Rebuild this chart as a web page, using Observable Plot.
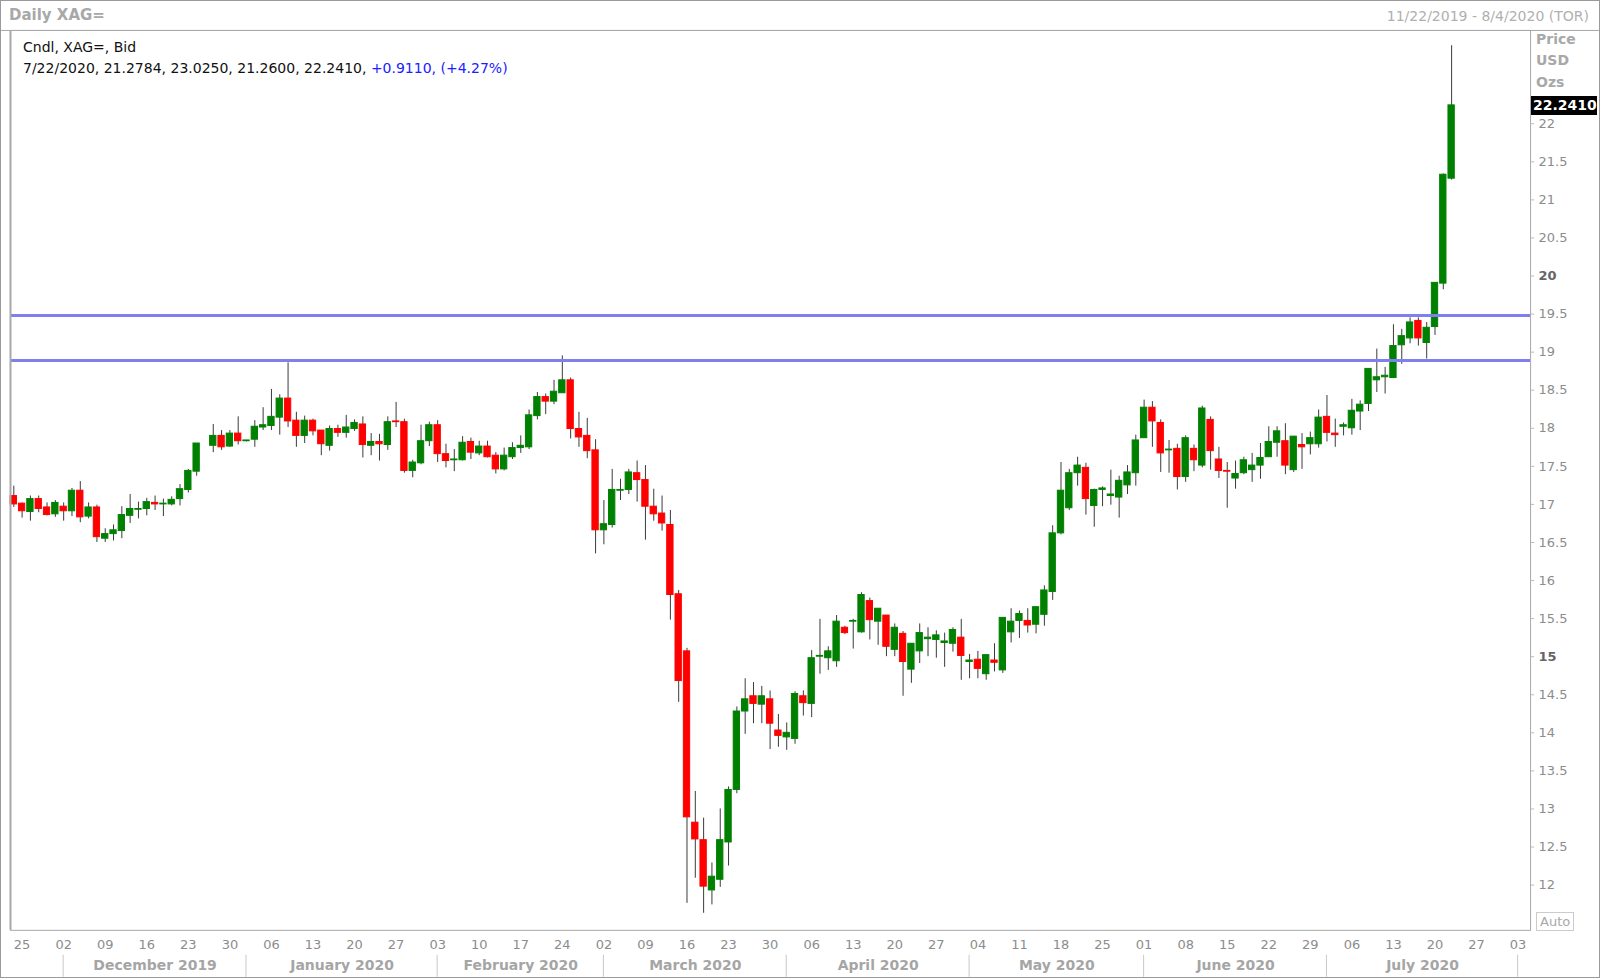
<!DOCTYPE html>
<html><head><meta charset="utf-8">
<script src="https://cdn.jsdelivr.net/npm/d3@7"></script>
<script src="https://cdn.jsdelivr.net/npm/@observablehq/plot@0.6"></script>
<style>
body{margin:0;background:#fff;}
#wrap{position:relative;width:1600px;height:978px;overflow:hidden;font-family:"DejaVu Sans",Verdana,sans-serif;box-sizing:border-box;border:1px solid #9a9a9a;}
#wrap svg{position:absolute;left:0;top:0;}
.abs{position:absolute;white-space:nowrap;line-height:1;}
</style></head><body><div id="wrap"></div>
<script>
// ---- data (index = trading weekday from 2019-11-22; null = no quote) ----
const startDate = "2019-11-22", endDate = "2020-08-04";
const opens = [17.11,17.01,16.90,17.07,16.96,16.87,16.97,16.91,17.18,16.84,16.96,16.55,16.61,16.65,16.85,16.93,16.94,17.02,17.00,17.00,17.07,17.19,17.43,null,17.77,17.90,17.76,17.93,17.83,17.85,
18.01,18.03,18.14,18.39,18.10,17.90,18.10,17.97,17.77,17.99,17.94,17.99,18.05,17.77,17.82,17.78,18.09,18.08,17.44,17.54,17.83,18.04,17.66,17.58,17.58,17.82,17.67,17.76,17.64,17.46,
17.62,17.74,17.75,18.16,18.41,18.35,18.46,18.63,17.99,17.90,17.71,16.66,16.73,17.18,17.19,17.41,17.32,16.97,16.88,16.73,15.82,15.07,12.82,12.59,11.93,12.07,12.56,13.25,14.28,14.48,
14.37,14.44,14.03,13.94,13.92,14.48,14.38,15.00,14.98,14.94,15.38,15.46,15.32,15.73,15.46,15.54,15.09,15.30,14.83,15.07,15.23,15.22,15.18,15.17,15.25,14.93,14.96,14.77,14.95,14.82,
15.32,15.47,15.47,15.42,15.55,15.85,16.62,16.95,17.41,17.48,16.98,17.19,17.11,17.09,17.25,17.41,17.87,18.27,18.07,17.71,17.73,17.36,17.73,17.51,18.11,17.59,17.44,17.34,17.41,17.45,
17.51,17.62,17.81,17.83,17.45,17.78,17.79,17.79,18.15,17.93,18.02,18.00,18.22,18.32,18.63,18.67,18.66,19.09,19.18,19.41,19.12,19.33,19.90,21.2784];
const highs = [17.24,17.02,17.11,17.11,17.02,17.05,17.02,17.21,17.30,17.02,16.99,16.68,16.73,16.97,17.13,17.03,17.08,17.11,17.07,17.10,17.26,17.46,17.80,null,18.05,17.97,17.97,18.15,17.84,18.10,
18.27,18.51,18.44,18.86,18.21,18.16,18.12,17.97,18.03,18.04,18.17,18.11,18.15,17.93,17.92,18.15,18.34,18.12,17.58,18.04,18.08,18.10,17.79,17.72,17.89,17.87,17.83,17.83,17.68,17.74,
17.81,17.90,18.24,18.47,18.45,18.63,18.95,18.66,18.21,18.13,17.85,17.05,17.46,17.33,17.46,17.57,17.51,17.20,17.11,16.92,15.87,15.11,13.23,12.88,12.29,13.00,13.29,14.34,14.71,14.66,
14.61,14.55,14.24,14.13,14.54,14.55,15.08,15.49,15.13,15.54,15.40,15.49,15.84,15.77,15.63,15.54,15.43,15.33,15.17,15.43,15.38,15.34,15.31,15.38,15.49,15.03,15.07,15.02,15.17,15.51,
15.63,15.60,15.63,15.65,15.93,16.72,17.55,17.46,17.62,17.54,17.20,17.23,17.45,17.37,17.51,17.91,18.37,18.35,18.11,17.84,17.79,17.90,17.78,18.29,18.15,17.75,17.55,17.57,17.62,17.67,
17.80,18.02,18.02,18.06,17.89,17.93,17.95,18.24,18.43,18.12,18.07,18.38,18.36,18.78,19.04,18.80,19.36,19.30,19.45,19.45,19.39,19.91,21.34,23.025];
const lows = [16.96,16.82,16.78,16.89,16.85,16.83,16.78,16.84,16.76,16.81,16.50,16.50,16.52,16.55,16.75,16.81,16.85,16.92,16.84,16.98,16.98,17.15,17.37,null,17.68,17.71,17.75,17.78,17.82,17.75,
17.97,17.97,17.91,18.01,17.75,17.80,17.90,17.64,17.70,17.88,17.87,17.96,17.61,17.64,17.57,17.71,18.01,17.41,17.35,17.52,17.76,17.55,17.48,17.43,17.57,17.59,17.64,17.61,17.40,17.44,
17.59,17.67,17.72,18.11,18.18,18.31,18.46,17.86,17.75,17.60,16.35,16.47,16.69,17.05,17.13,17.03,16.53,16.78,16.65,15.48,14.40,11.76,12.09,11.63,11.74,11.97,12.25,13.20,13.98,14.12,
14.12,13.78,13.81,13.77,13.85,14.22,14.20,14.77,14.82,14.86,15.29,15.10,15.31,15.22,15.15,15.00,15.00,14.48,14.65,14.91,15.00,14.98,14.86,15.06,14.69,14.71,14.71,14.69,14.80,14.78,
15.18,15.24,15.31,15.30,15.40,15.74,16.60,16.92,17.24,16.86,16.70,16.97,16.99,16.82,17.13,17.24,17.87,17.75,17.42,17.41,17.19,17.29,17.43,17.48,17.45,17.34,16.95,17.20,17.39,17.29,
17.33,17.62,17.62,17.39,17.42,17.46,17.65,17.74,17.82,17.75,17.90,17.91,17.97,18.22,18.47,18.45,18.66,18.84,19.11,19.08,18.91,19.22,19.82,21.26];
const closes = [17.00,16.91,17.07,16.94,16.86,17.02,16.91,17.18,16.83,16.96,16.57,16.61,16.66,16.86,16.94,16.94,17.03,17.00,17.01,17.06,17.20,17.44,17.80,null,17.90,17.75,17.93,17.83,17.84,18.02,
18.04,18.15,18.39,18.09,17.90,18.10,17.96,17.79,17.99,17.94,18.01,18.07,17.78,17.82,17.79,18.08,18.08,17.44,17.55,17.83,18.04,17.66,17.57,17.59,17.81,17.68,17.76,17.62,17.46,17.64,
17.74,17.77,18.17,18.41,18.35,18.48,18.63,17.99,17.88,17.70,16.66,16.74,17.19,17.19,17.42,17.32,16.97,16.87,16.75,15.81,14.68,12.89,12.60,11.98,12.11,12.59,13.25,14.28,14.44,14.38,
14.48,14.12,13.96,14.00,14.51,14.39,14.98,15.01,15.07,15.46,15.31,15.47,15.81,15.48,15.63,15.13,15.38,14.93,15.17,15.31,15.25,15.28,15.20,15.35,15.01,14.95,14.84,15.02,14.92,15.51,
15.46,15.56,15.41,15.65,15.87,16.62,17.18,17.41,17.51,17.07,17.19,17.21,17.13,17.31,17.42,17.84,18.27,18.09,17.67,17.72,17.36,17.87,17.58,18.26,17.70,17.44,17.43,17.40,17.58,17.51,
17.61,17.82,17.96,17.51,17.89,17.75,17.87,18.14,17.94,17.91,18.04,18.23,18.31,18.78,18.67,18.69,19.08,19.21,19.39,19.18,19.32,19.91,21.33,22.241];
const levels = [18.89, 19.48];
const yTicks = [12,12.5,13,13.5,14,14.5,15,15.5,16,16.5,17,17.5,18,18.5,19,19.5,20,20.5,21,21.5,22];
const yTicksBold = [15, 20];
const monthNames = ["December 2019","January 2020","February 2020","March 2020","April 2020","May 2020","June 2020","July 2020"];
const lastPrice = "22.2410";

// ---- calendar of weekdays (axis categories) ----
const days = d3.utcDays(new Date(startDate), d3.utcDay.offset(new Date(endDate), 1))
  .filter(d => d.getUTCDay() !== 0 && d.getUTCDay() !== 6);
const candles = opens.map((o, i) => o == null ? null : {i, o, h: highs[i], l: lows[i], c: closes[i]}).filter(Boolean);
const mondays = days.map((d, i) => ({d, i})).filter(e => e.d.getUTCDay() === 1);
const monthStarts = days.map((d, i) => ({d, i})).filter((e, k, a) => k > 0 && e.d.getUTCMonth() !== a[k-1].d.getUTCMonth());
const months = monthNames.map((m, k) => ({label: m, x: (monthStarts[k].i + monthStarts[k+1].i) / 2}));

const green = "#008000", red = "#ff0000";
const W = 1600, H = 978;

const chart = Plot.plot({
  width: W, height: H,
  marginLeft: 9, marginRight: 69, marginTop: 29, marginBottom: 48,
  style: {fontFamily: "DejaVu Sans, Verdana, sans-serif", background: "transparent", overflow: "visible"},
  x: {type: "linear", domain: [-0.397, 182.5]},
  y: {type: "linear", domain: [11.406, 23.225]},
  marks: [
    Plot.ruleX(candles, {x: "i", y1: "l", y2: "h", stroke: "#3a3a3a", strokeWidth: 1}),
    Plot.rect(candles, {x1: d => d.i - 0.38, x2: d => d.i + 0.38, y1: "o", y2: "c",
      fill: d => d.c >= d.o ? green : red, stroke: d => d.c >= d.o ? green : red, strokeWidth: 1}),
    Plot.ruleY(levels, {stroke: "#7f7ff2", strokeWidth: 3}),
    Plot.frame({stroke: "#a8a8a8", strokeWidth: 1}),
    Plot.axisY(yTicks.filter(t => !yTicksBold.includes(t)), {anchor: "right", tickSize: 3, tickPadding: 5, fontSize: 13, fill: "#8c8c8c", stroke: "#bbb", label: null, tickFormat: d => String(d)}),
    Plot.axisY(yTicksBold, {anchor: "right", tickSize: 3, tickPadding: 5, fontSize: 13, fontWeight: "bold", fill: "#666", stroke: "#bbb", label: null, tickFormat: d => String(d)}),
    Plot.axisX(mondays.map(e => e.i), {anchor: "bottom", tickSize: 0, tickPadding: 9, fontSize: 13, fill: "#8c8c8c", label: null,
      tickFormat: i => d3.utcFormat("%d")(days[i])}),
    Plot.text(months, {x: "x", text: "label", frameAnchor: "bottom", dy: 40, fontSize: 14, fontWeight: "bold", fill: "#a5a5a5"})
  ]
});
const wrap = document.getElementById("wrap");
wrap.appendChild(chart);

// month separators in the lower axis band, placed with the chart's x scale
const xs = chart.scale("x"), ys = chart.scale("y");
const svg = d3.select(chart);
svg.append("g").selectAll("line").data(monthStarts).join("line")
  .attr("x1", d => xs.apply(d.i)).attr("x2", d => xs.apply(d.i))
  .attr("y1", 955).attr("y2", 977).attr("stroke", "#c8c8c8");
// header separator across full width and thicker left edge
svg.append("line").attr("x1", 0).attr("x2", W).attr("y1", 29.5).attr("y2", 29.5).attr("stroke", "#a8a8a8");
svg.append("line").attr("x1", 9.5).attr("x2", 9.5).attr("y1", 29).attr("y2", 930).attr("stroke", "#a8a8a8").attr("stroke-width", 2);

function addText(txt, left, top, style) {
  const el = document.createElement("div");
  el.className = "abs"; el.innerHTML = txt;
  el.style.left = left + "px"; el.style.top = top + "px";
  Object.assign(el.style, style || {});
  wrap.appendChild(el);
  return el;
}
addText("Daily XAG=", 8, 7, {fontSize: "15px", fontWeight: "bold", color: "#a8a8a8"});
addText("11/22/2019 - 8/4/2020 (TOR)", 0, 8, {fontSize: "14px", color: "#b0b0b0", left: "auto", right: "10px"});
addText("Cndl, XAG=, Bid", 22, 39, {fontSize: "14px", color: "#111"});
addText("7/22/2020, 21.2784, 23.0250, 21.2600, 22.2410, <span style='color:#2020ff'>+0.9110, (+4.27%)</span>", 22, 60, {fontSize: "14px", color: "#111"});
addText("Price", 1535, 31, {fontSize: "14px", fontWeight: "bold", color: "#a8a8a8"});
addText("USD", 1535, 52, {fontSize: "14px", fontWeight: "bold", color: "#a8a8a8"});
addText("Ozs", 1535, 74, {fontSize: "14px", fontWeight: "bold", color: "#a8a8a8"});
const py = ys.apply(22.241);
addText(lastPrice, 1530, py - 9.5, {fontSize: "14px", fontWeight: "bold", color: "#fff", background: "#000", width: "66px", height: "19px", lineHeight: "19px", paddingLeft: "2px", boxSizing: "border-box"});
addText("Auto", 1535, 911, {fontSize: "13px", color: "#a8a8a8", border: "1px solid #ccc", padding: "2px 3px"});
</script></body></html>
